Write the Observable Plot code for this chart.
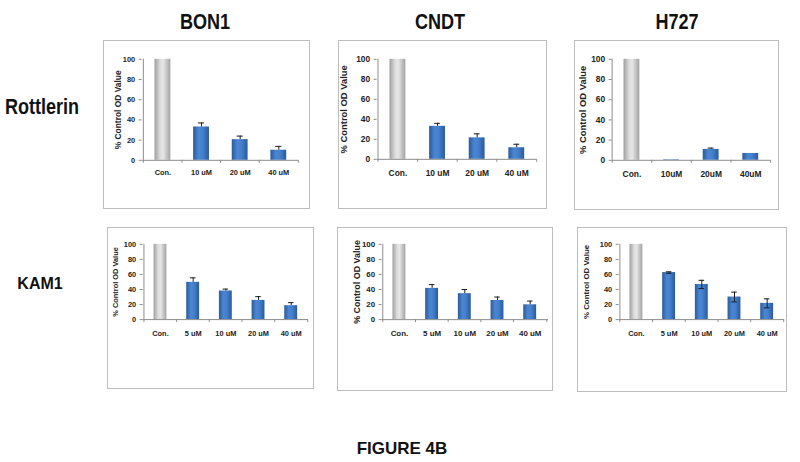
<!DOCTYPE html>
<html>
<head>
<meta charset="utf-8">
<script src="https://cdn.jsdelivr.net/npm/d3@7"></script>
<script src="https://cdn.jsdelivr.net/npm/@observablehq/plot@0.6"></script>
<style>
  html, body { margin: 0; padding: 0; background: #fff; }
  #root { position: relative; width: 800px; height: 462px; overflow: hidden; background: #fff; }
  .hdr { position: absolute; width: 200px; text-align: center; font-weight: bold; color: #111; white-space: nowrap; font-family: "Liberation Sans", Arial, sans-serif; }
  .narrow { transform: scaleX(0.82); transform-origin: 50% 50%; }
  .panel { position: absolute; box-sizing: border-box; border: 1px solid #bdbdbd; overflow: hidden; background: #fff; }
  .panel svg { position: absolute; left: -1px; top: -1px; }
</style>
</head>
<body>
<div id="root"></div>
<script>
// ---- data ----
const cellLines = ["BON1", "CNDT", "H727"];
const treatments = ["Rottlerin", "KAM1"];
const caption = "FIGURE 4B";
const yLabel = "% Control OD Value";
const yTicks = [0, 20, 40, 60, 80, 100];

const rottlerinDosesA = ["Con.", "10 uM", "20 uM", "40 uM"];
const rottlerinDosesB = ["Con.", "10uM", "20uM", "40uM"];
const kam1Doses = ["Con.", "5 uM", "10 uM", "20 uM", "40 uM"];

const bon1Rottlerin = [100, 33, 20.5, 10];
const bon1RottlerinErr = [0, 4, 3.5, 3.8];
const cndtRottlerin = [100, 33, 21.5, 11.6];
const cndtRottlerinErr = [0, 3, 4, 3.5];
const h727Rottlerin = [100, 0.5, 10.8, 6.8];
const h727RottlerinErr = [0, 0, 1.3, 0];

const bon1Kam1 = [100, 49.5, 38, 25.5, 18.5];
const bon1Kam1Err = [0, 6, 2.5, 5, 4];
const cndtKam1 = [100, 41.5, 34.5, 25.4, 19.7];
const cndtKam1Err = [0, 5, 5.5, 4.6, 4.9];
const h727Kam1 = [100, 62.5, 46.7, 30, 21.6];
const h727Kam1Err = [0, 1, 5.5, 6.5, 6];

// ---- layout (positions & styles) ----
const panels = [
  {doses: rottlerinDosesA, vals: bon1Rottlerin, err: bon1RottlerinErr, both: false,
   left: 103, top: 40, w: 207, h: 169, mt: 19, mr: 10, mb: 48, ml: 39, fs: 7.5, lfs: 8.5, lo: 24, tp: 9},
  {doses: rottlerinDosesA, vals: cndtRottlerin, err: cndtRottlerinErr, both: false,
   left: 338, top: 40, w: 209, h: 169, mt: 19, mr: 9, mb: 49, ml: 39, fs: 8.5, lfs: 9.5, lo: 33, tp: 11},
  {doses: rottlerinDosesB, vals: h727Rottlerin, err: h727RottlerinErr, both: false,
   left: 574, top: 40, w: 205, h: 170, mt: 19, mr: 7, mb: 49, ml: 38, fs: 8.5, lfs: 9.5, lo: 29, tp: 11},
  {doses: kam1Doses, vals: bon1Kam1, err: bon1Kam1Err, both: false,
   left: 107, top: 227, w: 207, h: 162, mt: 17, mr: 4, mb: 69, ml: 36, fs: 7.5, lfs: 7.5, lo: 28, tp: 11},
  {doses: kam1Doses, vals: cndtKam1, err: cndtKam1Err, both: false,
   left: 337, top: 227, w: 216, h: 164, mt: 17, mr: 3, mb: 71, ml: 45, fs: 8, lfs: 9, lo: 25, tp: 11},
  {doses: kam1Doses, vals: h727Kam1, err: h727Kam1Err, both: true,
   left: 577, top: 227, w: 210, h: 165, mt: 17, mr: 1, mb: 72, ml: 42, fs: 7.5, lfs: 8, lo: 33, tp: 11}
];

const root = document.getElementById("root");

function addText(txt, cls, cx, cy, size) {
  const d = document.createElement("div");
  d.className = "hdr " + cls;
  d.textContent = txt;
  d.style.fontSize = size + "px";
  d.style.lineHeight = size + "px";
  d.style.left = (cx - 100) + "px";
  d.style.top = (cy - size / 2) + "px";
  root.appendChild(d);
}

addText(cellLines[0], "narrow", 205, 22, 22);
addText(cellLines[1], "narrow", 440, 22, 22);
addText(cellLines[2], "narrow", 677, 22, 22);
addText(treatments[0], "narrow", 42, 107, 22);
addText(treatments[1], "", 40, 284, 16);
addText(caption, "", 402, 448, 17);

const NS = "http://www.w3.org/2000/svg";
function addGradient(defs, id, stops) {
  const g = document.createElementNS(NS, "linearGradient");
  g.setAttribute("id", id);
  g.setAttribute("x1", "0"); g.setAttribute("x2", "1");
  g.setAttribute("y1", "0"); g.setAttribute("y2", "0");
  for (const [o, c] of stops) {
    const s = document.createElementNS(NS, "stop");
    s.setAttribute("offset", o);
    s.setAttribute("stop-color", c);
    g.appendChild(s);
  }
  defs.appendChild(g);
}

panels.forEach((p, i) => {
  const data = p.doses.map((d, k) => ({dose: d, value: p.vals[k], err: p.err[k], ctrl: k === 0}));
  const n = p.doses.length;
  const step = (p.w - p.ml - p.mr) / n;
  const bw = step * 0.4;
  const ph = p.h - p.mt - p.mb;
  const tickUnits = 3 * 100 / ph;
  const withErr = data.filter(d => d.err > 0);
  const grayId = "gray" + i, blueId = "blue" + i;

  const marks = [
    Plot.barY(data.filter(d => d.ctrl), {x: "dose", y: "value", fill: `url(#${grayId})`}),
    Plot.barY(data.filter(d => !d.ctrl), {x: "dose", y: "value", fill: `url(#${blueId})`}),
    Plot.ruleX(withErr, {x: "dose", y1: d => p.both ? d.value - d.err : d.value, y2: d => d.value + d.err, stroke: "#1a1a1a", strokeWidth: 1}),
    Plot.tickY(withErr, {x: "dose", y: d => d.value + d.err, stroke: "#1a1a1a", insetLeft: bw / 2 - 3, insetRight: bw / 2 - 3}),
    Plot.ruleY([0], {stroke: "#8c8c8c"}),
    Plot.ruleX([p.doses[0]], {y1: 0, y2: 100, dx: -step / 2, stroke: "#8c8c8c"}),
    Plot.ruleX(p.doses, {y1: 0, y2: -tickUnits, dx: -step / 2, stroke: "#8c8c8c"}),
    Plot.ruleX([p.doses[n - 1]], {y1: 0, y2: -tickUnits, dx: step / 2, stroke: "#8c8c8c"}),
    Plot.text([yLabel], {frameAnchor: "left", textAnchor: "middle", dx: -p.lo, rotate: -90, fontSize: p.lfs, fontWeight: "bold", fill: "#222"})
  ];
  if (p.both) {
    marks.push(Plot.tickY(withErr, {x: "dose", y: d => d.value - d.err, stroke: "#1a1a1a", insetLeft: bw / 2 - 3, insetRight: bw / 2 - 3}));
  }

  const svg = Plot.plot({
    width: p.w,
    height: p.h,
    marginTop: p.mt, marginRight: p.mr, marginBottom: p.mb, marginLeft: p.ml,
    style: {fontFamily: "'Liberation Sans', Arial, sans-serif", fontSize: p.fs + "px", fontWeight: "bold", color: "#222", background: "white", overflow: "visible"},
    x: {type: "band", domain: p.doses, paddingInner: 0.6, paddingOuter: 0.3, tickSize: 0, tickPadding: p.tp, label: null},
    y: {domain: [0, 100], ticks: yTicks, tickSize: 3, tickPadding: 4, label: null},
    marks
  });

  const defs = document.createElementNS(NS, "defs");
  addGradient(defs, grayId, [["0", "#9e9e9e"], ["0.35", "#dcdcdc"], ["0.55", "#e6e6e6"], ["1", "#a2a2a2"]]);
  addGradient(defs, blueId, [["0", "#2a5a9c"], ["0.35", "#4a86d2"], ["0.6", "#4580cc"], ["1", "#2a5a9c"]]);
  svg.insertBefore(defs, svg.firstChild);
  svg.querySelectorAll("[aria-label='y-axis tick'] path, [aria-label='y-axis'] path").forEach(e => e.setAttribute("stroke", "#8c8c8c"));

  const wrap = document.createElement("div");
  wrap.className = "panel";
  wrap.style.left = p.left + "px";
  wrap.style.top = p.top + "px";
  wrap.style.width = p.w + "px";
  wrap.style.height = p.h + "px";
  wrap.appendChild(svg);
  root.appendChild(wrap);
});
</script>
</body>
</html>
